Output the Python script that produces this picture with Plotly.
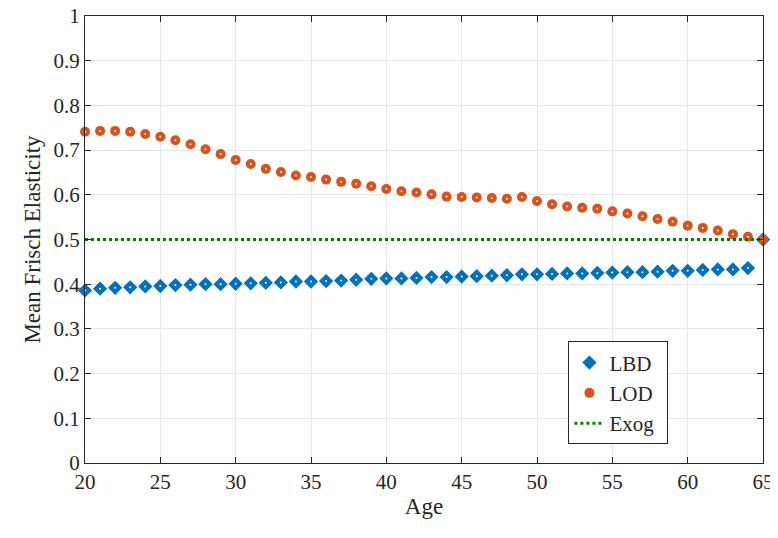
import plotly.graph_objects as go

ages = list(range(20, 66))
lod = [0.741, 0.743, 0.743, 0.741, 0.736, 0.730, 0.722, 0.713, 0.702, 0.691,
       0.678, 0.669, 0.658, 0.651, 0.643, 0.640, 0.634, 0.629, 0.625, 0.619,
       0.613, 0.608, 0.605, 0.601, 0.596, 0.595, 0.594, 0.593, 0.591, 0.595,
       0.586, 0.579, 0.574, 0.571, 0.569, 0.563, 0.558, 0.552, 0.546, 0.540,
       0.531, 0.526, 0.520, 0.512, 0.506, 0.500]
lbd = [0.386, 0.390, 0.392, 0.393, 0.395, 0.396, 0.398, 0.399, 0.400, 0.400,
       0.401, 0.402, 0.403, 0.404, 0.406, 0.406, 0.407, 0.408, 0.410, 0.412,
       0.413, 0.413, 0.414, 0.416, 0.416, 0.417, 0.418, 0.419, 0.420, 0.422,
       0.422, 0.423, 0.424, 0.424, 0.425, 0.426, 0.427, 0.427, 0.428, 0.430,
       0.430, 0.432, 0.433, 0.433, 0.436, 0.500]
exog = [0.5] * len(ages)

blue = "#0072BD"
orange = "#D95319"
green = "#008000"
serif = "Liberation Serif"

fig = go.Figure()
fig.add_trace(go.Scatter(x=ages, y=lbd, mode="markers", name="LBD  ", cliponaxis=False,
                         marker=dict(symbol="diamond", size=11, color=blue)))
fig.add_trace(go.Scatter(x=ages, y=lbd, mode="markers", showlegend=False, hoverinfo="skip",
                         cliponaxis=False, marker=dict(size=2, color="white")))
fig.add_trace(go.Scatter(x=ages, y=lod, mode="markers", name="LOD", cliponaxis=False,
                         marker=dict(symbol="circle", size=10, color=orange)))
fig.add_trace(go.Scatter(x=ages, y=lod, mode="markers", showlegend=False, hoverinfo="skip",
                         cliponaxis=False, marker=dict(size=2, color="white")))
fig.add_trace(go.Scatter(x=ages, y=exog, mode="lines", name="Exog",
                         line=dict(color=green, width=3, dash="dot")))

axis = dict(showline=True, linecolor="#262626", linewidth=1, mirror="ticks",
            ticks="inside", ticklen=6, tickcolor="#262626", automargin=False,
            ticklabeloverflow="allow",
            showgrid=True, gridcolor="#e6e6e6", zeroline=False,
            tickfont=dict(family=serif, size=21, color="#262626"))
fig.update_xaxes(range=[20, 65], dtick=5,
                 title=dict(text="Age", font=dict(family=serif, size=23), standoff=4), **axis)
fig.update_yaxes(range=[0, 1], dtick=0.1,
                 title=dict(text="Mean Frisch Elasticity", font=dict(family=serif, size=23), standoff=6),
                 **axis)
fig.update_layout(
    width=778, height=538,
    margin=dict(l=77, r=23, t=8, b=83),
    plot_bgcolor="white", paper_bgcolor="white",
    font=dict(family=serif, color="#262626"),
    showlegend=True,
    legend=dict(x=0.713, y=0.272, xanchor="left", yanchor="top",
                bgcolor="white", bordercolor="#262626", borderwidth=1,
                font=dict(family=serif, size=21), tracegroupgap=0),
)
fig.write_html("out.html")
